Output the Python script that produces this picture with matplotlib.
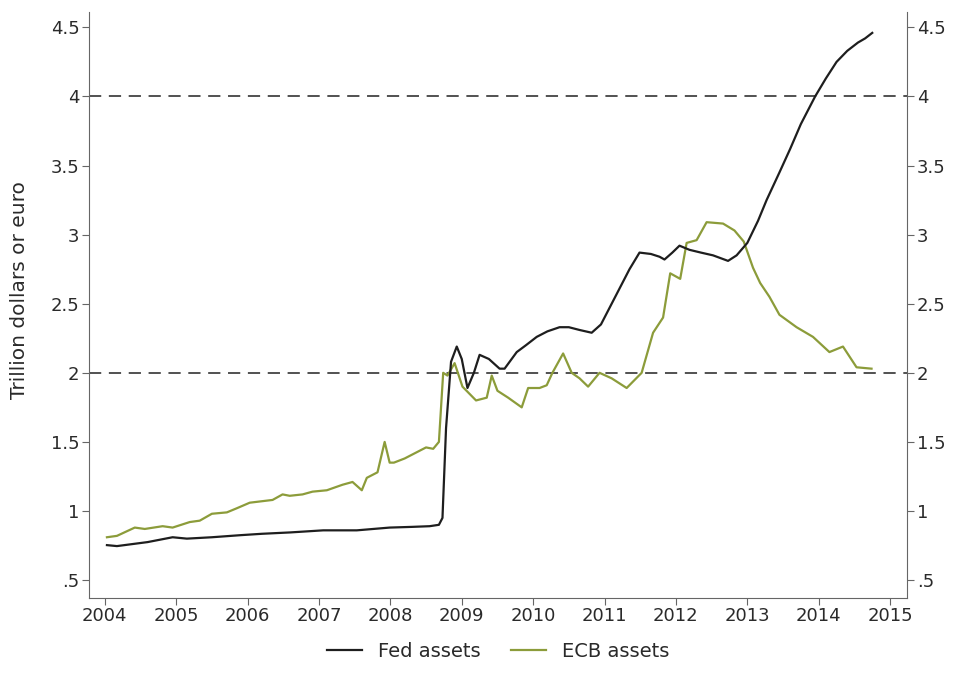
import numpy as np
import matplotlib.pyplot as plt

plt.rcParams['font.family'] = ['DejaVu Sans']

# Fed balance sheet (trillion dollars)
fed_t = [2004.03, 2004.17, 2004.6, 2004.95, 2005.15, 2005.5, 2005.9, 2006.2, 2006.6,
         2007.06, 2007.53, 2007.99, 2008.3, 2008.55, 2008.68, 2008.73, 2008.78, 2008.85,
         2008.93, 2009.0, 2009.08, 2009.17, 2009.25, 2009.38, 2009.53, 2009.6, 2009.77,
         2009.9, 2010.05, 2010.2, 2010.37, 2010.5, 2010.65, 2010.82, 2010.95, 2011.07,
         2011.2, 2011.35, 2011.49, 2011.65, 2011.77, 2011.84, 2011.95, 2012.05, 2012.19,
         2012.35, 2012.52, 2012.73, 2012.85, 2013.0, 2013.15, 2013.27, 2013.45, 2013.6,
         2013.75, 2013.95, 2014.1, 2014.25, 2014.4, 2014.55, 2014.65, 2014.75]
fed_v = [0.753, 0.746, 0.775, 0.81, 0.80, 0.81, 0.825, 0.835, 0.845,
         0.86, 0.86, 0.88, 0.885, 0.89, 0.90, 0.95, 1.6, 2.08,
         2.19, 2.1, 1.89, 2.0, 2.13, 2.1, 2.03, 2.03, 2.15,
         2.2, 2.26, 2.3, 2.33, 2.33, 2.31, 2.29, 2.35, 2.47,
         2.6, 2.75, 2.87, 2.86, 2.84, 2.82, 2.87, 2.92, 2.89,
         2.87, 2.85, 2.81, 2.85, 2.94, 3.1, 3.25, 3.45, 3.62,
         3.8, 4.0, 4.13, 4.25, 4.33, 4.39, 4.42, 4.46]

# ECB balance sheet (trillion euro)
ecb_t = [2004.03, 2004.17, 2004.42, 2004.56, 2004.81, 2004.95, 2005.19, 2005.33, 2005.5,
         2005.71, 2005.85, 2006.03, 2006.35, 2006.49, 2006.59, 2006.77, 2006.91, 2007.11,
         2007.33, 2007.47, 2007.6, 2007.67, 2007.82, 2007.92, 2007.99, 2008.05, 2008.2,
         2008.35, 2008.5, 2008.6, 2008.68, 2008.74, 2008.8, 2008.9, 2009.01, 2009.2,
         2009.35, 2009.42, 2009.5, 2009.65, 2009.84, 2009.93, 2010.09, 2010.19, 2010.27,
         2010.42, 2010.54, 2010.65, 2010.77, 2010.93, 2011.1, 2011.31, 2011.52, 2011.68,
         2011.82, 2011.92, 2012.06, 2012.15, 2012.29, 2012.43, 2012.66, 2012.82, 2012.95,
         2013.08, 2013.18, 2013.31, 2013.45, 2013.69, 2013.92, 2014.15, 2014.34, 2014.53,
         2014.74]
ecb_v = [0.81, 0.82, 0.88, 0.87, 0.89, 0.88, 0.92, 0.93, 0.98,
         0.99, 1.02, 1.06, 1.08, 1.12, 1.11, 1.12, 1.14, 1.15,
         1.19, 1.21, 1.15, 1.24, 1.28, 1.50, 1.35, 1.35, 1.38,
         1.42, 1.46, 1.45, 1.5, 2.0, 1.98, 2.07, 1.90, 1.80,
         1.82, 1.98, 1.87, 1.82, 1.75, 1.89, 1.89, 1.91, 2.0,
         2.14, 2.0, 1.96, 1.90, 2.0, 1.96, 1.89, 2.0, 2.29,
         2.40, 2.72, 2.68, 2.94, 2.96, 3.09, 3.08, 3.03, 2.95,
         2.76, 2.65, 2.55, 2.42, 2.33, 2.26, 2.15, 2.19, 2.04,
         2.03]

years = list(range(2004, 2016))
yticks = [0.5, 1, 1.5, 2, 2.5, 3, 3.5, 4, 4.5]
ylabels = ['.5', '1', '1.5', '2', '2.5', '3', '3.5', '4', '4.5']

fig = plt.figure(figsize=(9.58, 6.75), dpi=100)
ax = fig.add_axes([0.093, 0.114, 0.854, 0.868])

for lvl in [2, 4]:
    ax.axhline(lvl, color='#222222', lw=1.1, ls=(0, (8, 5)), zorder=1)

ax.plot(ecb_t, ecb_v, color='#8c9c3a', lw=1.6, label='ECB assets', zorder=2)
ax.plot(fed_t, fed_v, color='#1e1e1e', lw=1.6, label='Fed assets', zorder=3)

ax.set_xlim(2003.78, 2015.24)
ax.set_ylim(0.37, 4.61)
ax.set_xticks(years)
ax.set_yticks(yticks)
ax.set_yticklabels(ylabels)
ax.spines['top'].set_visible(False)
for s in ['left', 'right', 'bottom']:
    ax.spines[s].set_color('#666666')
ax.tick_params(colors='#2a2a2a', labelsize=13, length=5, color='#666666')
ax.tick_params(axis='x', pad=1.5)
ax.tick_params(axis='y', left=True, right=True, labelleft=True, labelright=True, pad=2)
ax.set_ylabel('Trillion dollars or euro', fontsize=14.5, color='#2a2a2a')
ax.yaxis.set_label_coords(-0.073, 0.525)

h, l = ax.get_legend_handles_labels()
fig.legend([h[1], h[0]], [l[1], l[0]], loc='lower center', ncol=2, frameon=False,
           fontsize=14, bbox_to_anchor=(0.52, -0.005), handlelength=1.8, columnspacing=1.6,
           labelcolor='#2a2a2a')

fig.savefig('out.png', dpi=100)
